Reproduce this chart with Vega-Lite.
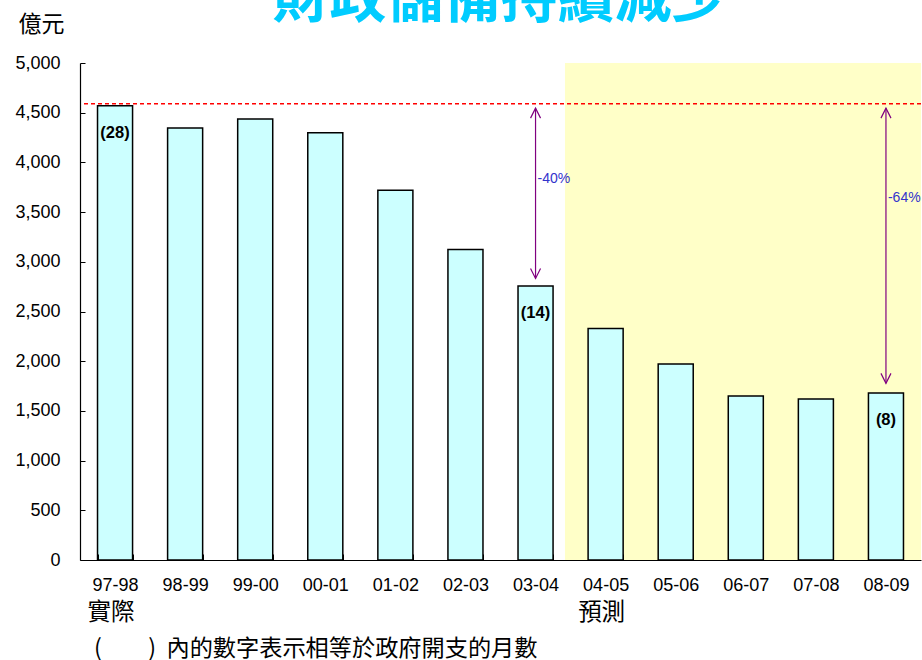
{
  "$schema": "https://vega.github.io/schema/vega-lite/v6.json",
  "width": 841,
  "height": 497,
  "autosize": {"type": "none"},
  "padding": {"left": 80, "top": 63, "right": 1, "bottom": 100},
  "background": "white",
  "config": {"view": {"stroke": null}, "font": "Liberation Sans"},
  "title": {
    "text": "財政儲備持續減少",
    "font": "Noto Sans CJK TC",
    "fontSize": 57,
    "fontWeight": "bold",
    "color": "#00CCFF",
    "anchor": "middle",
    "frame": "group",
    "baseline": "alphabetic",
    "offset": 0,
    "dy": 61
  },
  "datasets": {
    "reserve": [
      {"year": "97-98", "value": 4570, "months": "(28)"},
      {"year": "98-99", "value": 4345, "months": ""},
      {"year": "99-00", "value": 4436, "months": ""},
      {"year": "00-01", "value": 4299, "months": ""},
      {"year": "01-02", "value": 3721, "months": ""},
      {"year": "02-03", "value": 3125, "months": ""},
      {"year": "03-04", "value": 2756, "months": "(14)"},
      {"year": "04-05", "value": 2330, "months": ""},
      {"year": "05-06", "value": 1971, "months": ""},
      {"year": "06-07", "value": 1649, "months": ""},
      {"year": "07-08", "value": 1619, "months": ""},
      {"year": "08-09", "value": 1679, "months": "(8)"}
    ],
    "arrows": [
      {"year": "03-04", "top": 4546, "bottom": 2833, "label": "-40%", "labelY": 3829},
      {"year": "08-09", "top": 4546, "bottom": 1777, "label": "-64%", "labelY": 3638}
    ],
    "period": [{"start": "03-04", "low": 0, "high": 5000}],
    "periodNotes": [{"year": "97-98", "text": "實際"}, {"year": "04-05", "text": "預測"}],
    "footnote": [{"year": "97-98", "text": "(\u3000\u3000)\u00A0\u00A0內的數字表示相等於政府開支的月數"}],
    "refLine": [{"level": 4590}]
  },
  "layer": [
    {
      "data": {"name": "period"},
      "mark": {"type": "rect", "fill": "#FFFFC8", "stroke": null},
      "encoding": {
        "x": {
          "field": "start",
          "type": "nominal",
          "bandPosition": 1.34,
          "scale": {
            "domain": ["97-98", "98-99", "99-00", "00-01", "01-02", "02-03", "03-04", "04-05", "05-06", "06-07", "07-08", "08-09"],
            "paddingInner": 0.5,
            "paddingOuter": 0.25
          },
          "axis": {
            "title": null,
            "zindex": 1,
            "labelFont": "Liberation Sans",
            "labelFontSize": 18,
            "labelColor": "black",
            "labelAngle": 0,
            "labelPadding": 22,
            "domainColor": "black",
            "domainWidth": 1.2,
            "tickColor": "black",
            "tickSize": -6,
            "tickWidth": 1,
            "tickBand": "extent"
          }
        },
        "x2": {"value": "width"},
        "y": {
          "field": "low",
          "type": "quantitative",
          "scale": {"domain": [0, 5000], "nice": false},
          "axis": {
            "zindex": 1,
            "values": [0, 500, 1000, 1500, 2000, 2500, 3000, 3500, 4000, 4500, 5000],
            "format": ",.0f",
            "grid": false,
            "labelFont": "Liberation Sans",
            "labelFontSize": 18,
            "labelColor": "black",
            "labelPadding": 25,
            "domainColor": "black",
            "domainWidth": 1.2,
            "tickColor": "black",
            "tickSize": -5,
            "title": "億元",
            "titleFont": "Noto Sans CJK TC",
            "titleFontSize": 23,
            "titleFontWeight": "normal",
            "titleColor": "black",
            "titleAngle": 0,
            "titleAlign": "center",
            "titleBaseline": "middle",
            "titleX": -39,
            "titleY": -39
          }
        },
        "y2": {"field": "high"}
      }
    },
    {
      "data": {"name": "reserve"},
      "mark": {"type": "bar", "fill": "#CCFFFF", "stroke": "black", "strokeWidth": 1.5},
      "encoding": {
        "x": {"field": "year", "type": "nominal"},
        "y": {"field": "value", "type": "quantitative"}
      }
    },
    {
      "data": {"name": "reserve"},
      "mark": {"type": "text", "fontWeight": "bold", "fontSize": 16.5, "color": "black", "dy": 27, "font": "Liberation Sans"},
      "encoding": {
        "x": {"field": "year", "type": "nominal"},
        "y": {"field": "value", "type": "quantitative"},
        "text": {"field": "months"}
      }
    },
    {
      "data": {"name": "refLine"},
      "mark": {"type": "rule", "color": "#FF0000", "strokeWidth": 1.5, "strokeDash": [4, 3]},
      "encoding": {"y": {"field": "level", "type": "quantitative"}}
    },
    {
      "mark": {"type": "rule", "color": "black", "strokeWidth": 1.2},
      "encoding": {"y": {"datum": 5000}}
    },
    {
      "data": {"name": "arrows"},
      "mark": {"type": "rule", "color": "#800080", "strokeWidth": 1.2},
      "encoding": {
        "x": {"field": "year", "type": "nominal"},
        "y": {"field": "top", "type": "quantitative"},
        "y2": {"field": "bottom"}
      }
    },
    {
      "data": {"name": "arrows"},
      "mark": {"type": "point", "shape": "M-1,2L0,0L1,2", "size": 100, "filled": false, "stroke": "#800080", "strokeWidth": 1.2, "opacity": 1},
      "encoding": {
        "x": {"field": "year", "type": "nominal"},
        "y": {"field": "top", "type": "quantitative"}
      }
    },
    {
      "data": {"name": "arrows"},
      "mark": {"type": "point", "shape": "M-1,-2L0,0L1,-2", "size": 100, "filled": false, "stroke": "#800080", "strokeWidth": 1.2, "opacity": 1},
      "encoding": {
        "x": {"field": "year", "type": "nominal"},
        "y": {"field": "bottom", "type": "quantitative"}
      }
    },
    {
      "data": {"name": "arrows"},
      "mark": {"type": "text", "align": "left", "baseline": "middle", "dx": 2, "fontSize": 14, "color": "#3333CC", "font": "Liberation Sans"},
      "encoding": {
        "x": {"field": "year", "type": "nominal"},
        "y": {"field": "labelY", "type": "quantitative"},
        "text": {"field": "label"}
      }
    },
    {
      "data": {"name": "periodNotes"},
      "mark": {"type": "text", "align": "center", "baseline": "middle", "dx": -4, "dy": 53, "fontSize": 23.5, "color": "black", "font": "Noto Sans CJK TC"},
      "encoding": {
        "x": {"field": "year", "type": "nominal"},
        "y": {"datum": 0},
        "text": {"field": "text"}
      }
    },
    {
      "data": {"name": "footnote"},
      "mark": {"type": "text", "align": "left", "baseline": "middle", "dx": -21, "dy": 89, "fontSize": 23.2, "color": "black", "font": "Noto Sans CJK TC"},
      "encoding": {
        "x": {"field": "year", "type": "nominal"},
        "y": {"datum": 0},
        "text": {"field": "text"}
      }
    }
  ]
}
